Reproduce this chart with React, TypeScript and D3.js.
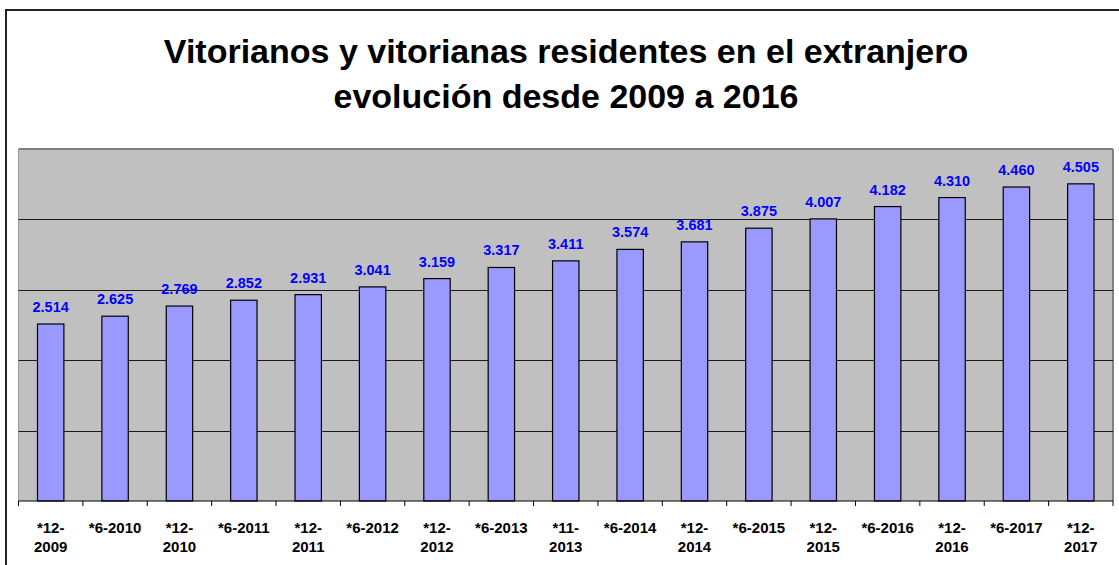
import React from "react";
import * as d3 from "d3";

const categories = [
  "*12-2009", "*6-2010", "*12-2010", "*6-2011", "*12-2011", "*6-2012",
  "*12-2012", "*6-2013", "*11-2013", "*6-2014", "*12-2014", "*6-2015",
  "*12-2015", "*6-2016", "*12-2016", "*6-2017", "*12-2017",
];
const values = [
  2514, 2625, 2769, 2852, 2931, 3041, 3159, 3317, 3411, 3574, 3681, 3875,
  4007, 4182, 4310, 4460, 4505,
];
const yTicks = [0, 1000, 2000, 3000, 4000, 5000];
const titleLines = [
  "Vitorianos y vitorianas residentes en el extranjero",
  "evolución desde 2009 a 2016",
];

const W = 1119;
const H = 565;
const plot = { left: 18.5, right: 1113, top: 149, bottom: 501 };
const font = "'Liberation Sans', Arial, sans-serif";

const fmt = (v: number) => {
  const s = String(v);
  return s.length > 3 ? s.slice(0, s.length - 3) + "." + s.slice(-3) : s;
};

const splitLabel = (s: string) => {
  if (s.length > 7) {
    const i = s.indexOf("-");
    return [s.slice(0, i + 1), s.slice(i + 1)];
  }
  return [s];
};

export default function App() {
  const x = d3
    .scaleBand<string>()
    .domain(categories)
    .range([plot.left, plot.right])
    .paddingInner(0.59)
    .paddingOuter(0.295);
  const step = (plot.right - plot.left) / categories.length;
  const y = d3.scaleLinear().domain([0, 5000]).range([plot.bottom, plot.top]);

  return (
    <svg
      width={W}
      height={H}
      style={{ position: "absolute", left: 0, top: 0, display: "block" }}
    >
      <rect x={0} y={0} width={W} height={H} fill="#ffffff" />
      <rect
        x={6}
        y={10}
        width={W + 10}
        height={H + 10}
        fill="none"
        stroke="#222"
        strokeWidth={2}
      />
      {titleLines.map((t, i) => (
        <text
          key={i}
          x={566}
          y={63 + i * 45}
          textAnchor="middle"
          fontFamily={font}
          fontWeight="bold"
          fontSize={34}
          fill="#000"
        >
          {t}
        </text>
      ))}
      <rect
        x={plot.left}
        y={plot.top}
        width={plot.right - plot.left}
        height={plot.bottom - plot.top}
        fill="#C0C0C0"
      />
      <line x1={plot.left} x2={plot.left} y1={plot.top} y2={plot.bottom} stroke="#9a9a9a" strokeWidth={1} />
      <line x1={plot.left} x2={plot.right} y1={plot.top} y2={plot.top} stroke="#808080" strokeWidth={2} />
      <line x1={plot.right} x2={plot.right} y1={plot.top} y2={plot.bottom} stroke="#808080" strokeWidth={2} />
      {yTicks
        .filter((t) => t > 0 && t < 5000)
        .map((t) => (
          <line
            key={t}
            x1={plot.left}
            x2={plot.right}
            y1={Math.round(y(t)) + 0.5}
            y2={Math.round(y(t)) + 0.5}
            stroke="#1a1a1a"
            strokeWidth={1}
          />
        ))}
      {categories.map((c, i) => (
        <rect
          key={c}
          x={x(c)}
          y={y(values[i])}
          width={x.bandwidth()}
          height={plot.bottom - y(values[i])}
          fill="#9999FF"
          stroke="#000"
          strokeWidth={1.2}
        />
      ))}
      <line x1={plot.left} x2={plot.right} y1={plot.bottom} y2={plot.bottom} stroke="#000" strokeWidth={1.2} />
      {d3.range(categories.length + 1).map((i) => (
        <line
          key={i}
          x1={plot.left + i * step}
          x2={plot.left + i * step}
          y1={plot.bottom}
          y2={plot.bottom + 5}
          stroke="#000"
          strokeWidth={1}
        />
      ))}
      {categories.map((c, i) => (
        <text
          key={c}
          x={(x(c) as number) + x.bandwidth() / 2}
          y={y(values[i]) - 12}
          textAnchor="middle"
          fontFamily={font}
          fontWeight="bold"
          fontSize={14.5}
          fill="#0000FF"
        >
          {fmt(values[i])}
        </text>
      ))}
      {categories.map((c) => {
        const lines = splitLabel(c);
        const cx = (x(c) as number) + x.bandwidth() / 2;
        return (
          <text
            key={c}
            textAnchor="middle"
            fontFamily={font}
            fontWeight="bold"
            fontSize={15}
            fill="#000"
          >
            {lines.map((l, j) => (
              <tspan key={j} x={cx} y={532.5 + j * 19.5}>
                {l}
              </tspan>
            ))}
          </text>
        );
      })}
    </svg>
  );
}
